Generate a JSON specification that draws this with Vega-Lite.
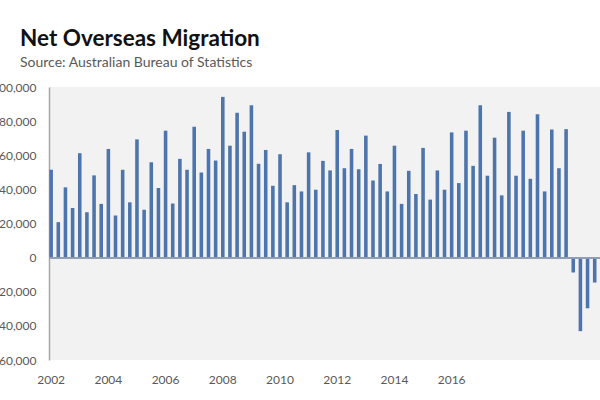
{
  "$schema": "https://vega.github.io/schema/vega-lite/v6.json",
  "autosize": {"type": "none"},
  "padding": {"left": 49, "top": 87, "right": 0, "bottom": 40},
  "width": 555,
  "height": 273,
  "background": "#ffffff",
  "title": {
    "text": "Net Overseas Migration",
    "subtitle": "Source: Australian Bureau of Statistics",
    "anchor": "start",
    "frame": "group",
    "dx": -29,
    "offset": 11,
    "font": "Lato",
    "fontSize": 22.5,
    "fontWeight": "bold",
    "color": "#111111",
    "subtitleFont": "Lato",
    "subtitleFontSize": 14,
    "subtitleColor": "#595959",
    "subtitlePadding": 6
  },
  "config": {
    "view": {"fill": "#f2f2f2", "stroke": null},
    "axis": {"labelFont": "Lato", "labelColor": "#595959", "labelFontSize": 12, "labelOverlap": false},
    "axisY": {"labelOverlap": false, "labelFlush": false}
  },
  "data": {
    "values": [
      {"quarter": "2002-Q1", "value": 51500},
      {"quarter": "2002-Q2", "value": 20800},
      {"quarter": "2002-Q3", "value": 41200},
      {"quarter": "2002-Q4", "value": 29100},
      {"quarter": "2003-Q1", "value": 61200},
      {"quarter": "2003-Q2", "value": 26600},
      {"quarter": "2003-Q3", "value": 48200},
      {"quarter": "2003-Q4", "value": 31500},
      {"quarter": "2004-Q1", "value": 63700},
      {"quarter": "2004-Q2", "value": 24700},
      {"quarter": "2004-Q3", "value": 51500},
      {"quarter": "2004-Q4", "value": 32400},
      {"quarter": "2005-Q1", "value": 69300},
      {"quarter": "2005-Q2", "value": 28000},
      {"quarter": "2005-Q3", "value": 55900},
      {"quarter": "2005-Q4", "value": 40800},
      {"quarter": "2006-Q1", "value": 74400},
      {"quarter": "2006-Q2", "value": 31700},
      {"quarter": "2006-Q3", "value": 57900},
      {"quarter": "2006-Q4", "value": 51500},
      {"quarter": "2007-Q1", "value": 76700},
      {"quarter": "2007-Q2", "value": 49900},
      {"quarter": "2007-Q3", "value": 63700},
      {"quarter": "2007-Q4", "value": 56900},
      {"quarter": "2008-Q1", "value": 94200},
      {"quarter": "2008-Q2", "value": 65600},
      {"quarter": "2008-Q3", "value": 84900},
      {"quarter": "2008-Q4", "value": 73800},
      {"quarter": "2009-Q1", "value": 89300},
      {"quarter": "2009-Q2", "value": 55000},
      {"quarter": "2009-Q3", "value": 63100},
      {"quarter": "2009-Q4", "value": 42100},
      {"quarter": "2010-Q1", "value": 60600},
      {"quarter": "2010-Q2", "value": 32400},
      {"quarter": "2010-Q3", "value": 42500},
      {"quarter": "2010-Q4", "value": 38800},
      {"quarter": "2011-Q1", "value": 61700},
      {"quarter": "2011-Q2", "value": 39800},
      {"quarter": "2011-Q3", "value": 56700},
      {"quarter": "2011-Q4", "value": 51100},
      {"quarter": "2012-Q1", "value": 74800},
      {"quarter": "2012-Q2", "value": 52400},
      {"quarter": "2012-Q3", "value": 63700},
      {"quarter": "2012-Q4", "value": 51800},
      {"quarter": "2013-Q1", "value": 71500},
      {"quarter": "2013-Q2", "value": 45200},
      {"quarter": "2013-Q3", "value": 54900},
      {"quarter": "2013-Q4", "value": 38800},
      {"quarter": "2014-Q1", "value": 65600},
      {"quarter": "2014-Q2", "value": 31500},
      {"quarter": "2014-Q3", "value": 50900},
      {"quarter": "2014-Q4", "value": 37300},
      {"quarter": "2015-Q1", "value": 64300},
      {"quarter": "2015-Q2", "value": 34000},
      {"quarter": "2015-Q3", "value": 51100},
      {"quarter": "2015-Q4", "value": 39800},
      {"quarter": "2016-Q1", "value": 73400},
      {"quarter": "2016-Q2", "value": 43700},
      {"quarter": "2016-Q3", "value": 74400},
      {"quarter": "2016-Q4", "value": 53800},
      {"quarter": "2017-Q1", "value": 89300},
      {"quarter": "2017-Q2", "value": 48000},
      {"quarter": "2017-Q3", "value": 70300},
      {"quarter": "2017-Q4", "value": 36500},
      {"quarter": "2018-Q1", "value": 85400},
      {"quarter": "2018-Q2", "value": 48000},
      {"quarter": "2018-Q3", "value": 74400},
      {"quarter": "2018-Q4", "value": 46200},
      {"quarter": "2019-Q1", "value": 84100},
      {"quarter": "2019-Q2", "value": 38800},
      {"quarter": "2019-Q3", "value": 75100},
      {"quarter": "2019-Q4", "value": 52400},
      {"quarter": "2020-Q1", "value": 75300},
      {"quarter": "2020-Q2", "value": -8700},
      {"quarter": "2020-Q3", "value": -43100},
      {"quarter": "2020-Q4", "value": -29700},
      {"quarter": "2021-Q1", "value": -14600},
      {"quarter": "2021-Q2", "value": 2000}
    ]
  },
  "resolve": {"axis": {"y": "independent"}},
  "layer": [
    {
      "mark": {"type": "bar", "color": "#4d75ac"},
      "encoding": {
        "x": {
          "field": "quarter",
          "type": "ordinal",
          "sort": null,
          "scale": {"paddingInner": 0.5, "paddingOuter": 0.05},
          "axis": {
            "title": null,
            "domain": false,
            "ticks": false,
            "labelAngle": 0,
            "labelPadding": 14,
            "labelOverlap": false,
            "values": ["2002-Q1", "2004-Q1", "2006-Q1", "2008-Q1", "2010-Q1", "2012-Q1", "2014-Q1", "2016-Q1"],
            "labelExpr": "slice(datum.value, 0, 4)"
          }
        },
        "y": {
          "field": "value",
          "type": "quantitative",
          "scale": {"domain": [-60000, 100000], "nice": false},
          "axis": {
            "title": null,
            "grid": false,
            "ticks": false,
            "domain": true,
            "domainColor": "#a6a6a6",
            "domainWidth": 1.5,
            "labelPadding": 13,
            "labelOverlap": false,
            "labelFlush": false,
            "values": [-60000, -40000, -20000, 0, 20000, 40000, 60000, 80000, 100000],
            "format": ",.0f"
          }
        }
      }
    },
    {
      "mark": {"type": "rule", "color": "#8f9db5", "strokeWidth": 1},
      "encoding": {"y": {"datum": 0, "type": "quantitative", "axis": null}}
    }
  ]
}
